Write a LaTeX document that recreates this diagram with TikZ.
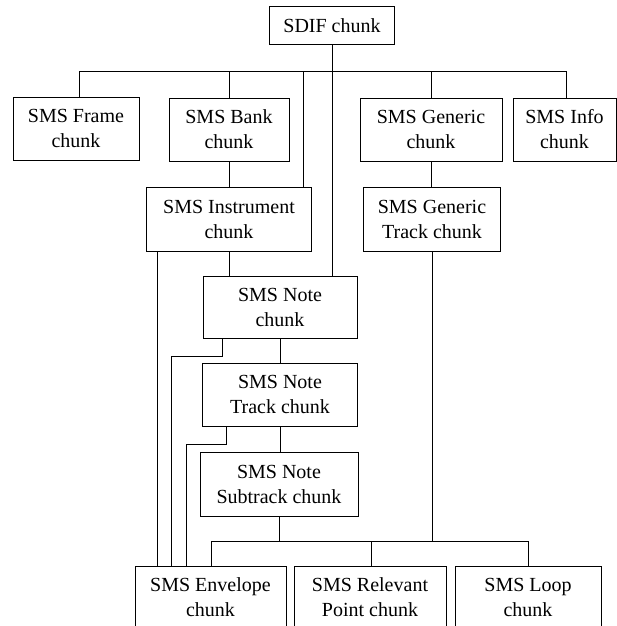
\documentclass[tikz,border=0pt]{standalone}
\usepackage{fontspec}
\setmainfont{Liberation Serif}
\begin{document}
\begin{tikzpicture}[x=1pt,y=-1pt,
  box/.style={draw, line width=1pt, inner sep=0pt, align=center,
    font=\fontsize{20}{25}\selectfont},
  link/.style={line width=1pt}]
\path[use as bounding box] (0,0) rectangle (617,626);
\clip (0,0) rectangle (617,626);

% chunk boxes
\node[box, minimum width=125, minimum height=38] (sdif) at (332,26) {SDIF chunk};
\node[box, minimum width=126, minimum height=63] (frame) at (76,128.5) {SMS Frame\\chunk};
\node[box, minimum width=120, minimum height=63] (bank) at (229,129.5) {SMS Bank\\chunk};
\node[box, minimum width=142, minimum height=63] (generic) at (431,129.5) {SMS Generic\\chunk};
\node[box, minimum width=103, minimum height=63] (info) at (564.5,129.5) {SMS Info\\chunk};
\node[box, minimum width=165, minimum height=64] (instrument) at (229,219) {SMS Instrument\\chunk};
\node[box, minimum width=137, minimum height=64] (gtrack) at (432,219) {SMS Generic\\Track chunk};
\node[box, minimum width=154, minimum height=62] (note) at (280,307) {SMS Note\\chunk};
\node[box, minimum width=155, minimum height=63] (ntrack) at (280,394.5) {SMS Note\\Track chunk};
\node[box, minimum width=158, minimum height=64] (subtrack) at (279,484) {SMS Note\\Subtrack chunk};
\node[box, minimum width=151, minimum height=63] (envelope) at (210.5,597.5) {SMS Envelope\\chunk};
\node[box, minimum width=152, minimum height=63] (relevant) at (370,597.5) {SMS Relevant\\Point chunk};
\node[box, minimum width=146, minimum height=63] (loop) at (528,597.5) {SMS Loop\\chunk};

% top distribution bus
\coordinate (busL) at (79,71);
\coordinate (busR) at (566,71);
\coordinate (jInst) at (303,71);
\draw[link] (busL) -- (busR);
\draw[link] (sdif.south) -- (sdif.south |- note.north);
\draw[link] (busL) -- (busL |- frame.north);
\draw[link] (bank.north) -- (bank.north |- busL);
\draw[link] (jInst) -- (jInst |- instrument.north);
\draw[link] (generic.north) -- (generic.north |- busL);
\draw[link] (busR) -- (busR |- info.north);

% middle links
\draw[link] (bank.south) -- (bank.south |- instrument.north);
\draw[link] (generic.south) -- (generic.south |- gtrack.north);
\draw[link] (instrument.south) -- (instrument.south |- note.north);
\draw[link] (note.south) -- (note.south |- ntrack.north);
\draw[link] (ntrack.south) -- (ntrack.south |- subtrack.north);

% links down to the envelope chunk
\draw[link] (157,0 |- instrument.south) -- (157,0 |- envelope.north);
\draw[link] (222,0 |- note.south) -- (222,356) -- (171,356) -- (171,0 |- envelope.north);
\draw[link] (226,0 |- ntrack.south) -- (226,444) -- (186,444) -- (186,0 |- envelope.north);

% bottom bus
\coordinate (bL) at (211,541);
\coordinate (bR) at (528,541);
\draw[link] (bL) -- (bR);
\draw[link] (subtrack.south) -- (subtrack.south |- bL);
\draw[link] (gtrack.south) -- (gtrack.south |- bL);
\draw[link] (bL) -- (bL |- envelope.north);
\draw[link] (371,0 |- bL) -- (371,0 |- relevant.north);
\draw[link] (bR) -- (bR |- loop.north);
\end{tikzpicture}
\end{document}
